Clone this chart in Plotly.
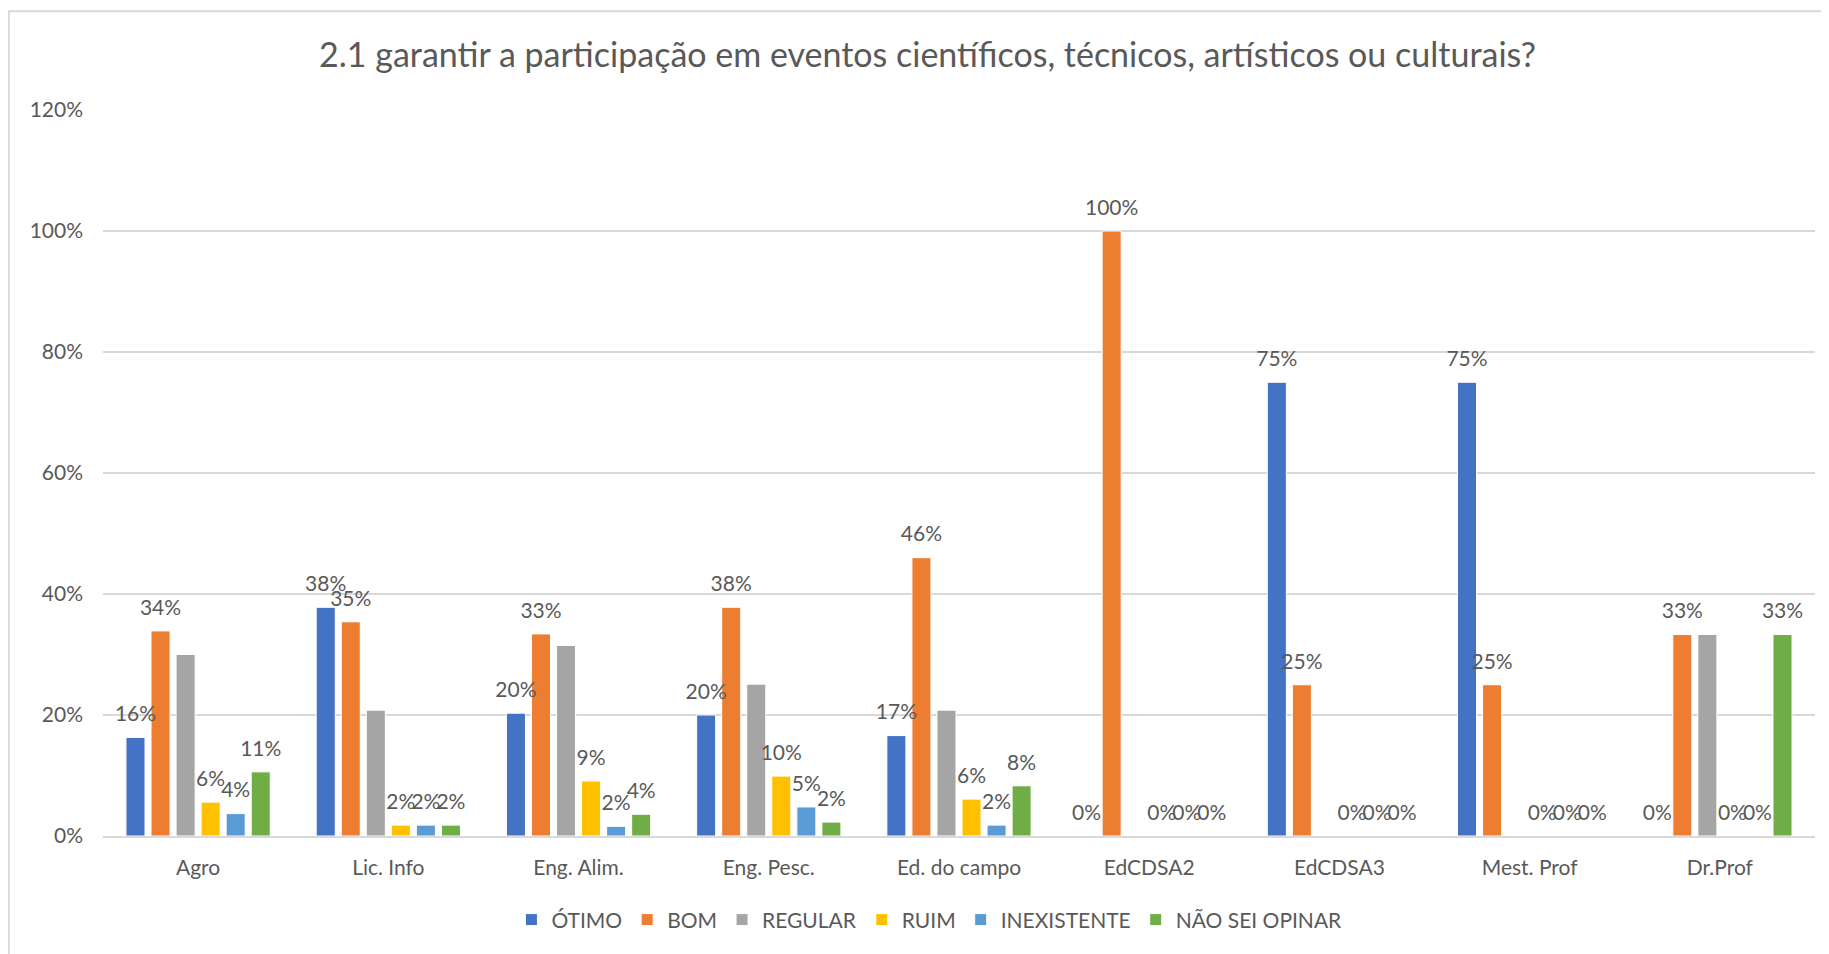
import plotly.graph_objects as go

# categorias (cursos)
cursos = ["Agro", "Lic. Info", "Eng. Alim.", "Eng. Pesc.", "Ed. do campo",
          "EdCDSA2", "EdCDSA3", "Mest. Prof", "Dr.Prof"]

# valores (fracao)
otimo = [0.163, 0.378, 0.203, 0.200, 0.166, 0.0, 0.75, 0.75, 0.0]
bom = [0.339, 0.354, 0.334, 0.378, 0.460, 1.0, 0.25, 0.25, 0.333]
regular = [0.300, 0.208, 0.315, 0.251, 0.208, 0.0, 0.0, 0.0, 0.333]
ruim = [0.056, 0.018, 0.091, 0.099, 0.061, 0.0, 0.0, 0.0, 0.0]
inexistente = [0.037, 0.018, 0.016, 0.048, 0.018, 0.0, 0.0, 0.0, 0.0]
nao_sei = [0.106, 0.018, 0.036, 0.023, 0.083, 0.0, 0.0, 0.0, 0.333]

series = [
    ("ÓTIMO", otimo, "#4472C4", True),
    ("BOM", bom, "#ED7D31", True),
    ("REGULAR", regular, "#A5A5A5", False),  # sem rotulos no original
    ("RUIM", ruim, "#FFC000", True),
    ("INEXISTENTE", inexistente, "#5B9BD5", True),
    ("NÃO SEI OPINAR", nao_sei, "#70AD47", True),
]

cinza = "#595959"
fonte = "Lato"
tam = 21

fig = go.Figure()

for nome, vals, cor, rotulo in series:
    fig.add_trace(go.Bar(
        x=cursos, y=vals, name=nome,
        marker=dict(color=cor, line=dict(color="white", width=1)),
        hoverinfo="skip",
    ))

# rotulos de dados como texto de scatter agrupado (para o espaco acima da barra)
for nome, vals, cor, rotulo in series:
    fig.add_trace(go.Scatter(
        x=cursos, y=vals, mode="markers+text",
        text=[f"{v:.0%}" if rotulo else "" for v in vals],
        textposition="top center",
        textfont=dict(size=tam, color=cinza, family=fonte),
        marker=dict(size=16, opacity=0),
        showlegend=False, hoverinfo="skip", cliponaxis=False,
    ))

# a pagina tem 8px de margem no body, por isso 1821x946
fig.update_layout(
    width=1821, height=946,
    barmode="group", bargap=0.21, bargroupgap=0.24,
    scattermode="group", scattergap=0.21,
    paper_bgcolor="white", plot_bgcolor="white",
    margin=dict(l=95, r=14, t=102, b=118, autoexpand=False),
    font=dict(family=fonte, color=cinza, size=tam),
    title=dict(
        text="2.1 garantir a participação em eventos científicos, técnicos, artísticos ou culturais?",
        x=0.505, xref="container", xanchor="center",
        y=0.950, yref="container", yanchor="middle",
        font=dict(size=34, color=cinza, family=fonte),
    ),
    legend=dict(
        orientation="h", x=0.506, xref="container", xanchor="center",
        y=0.036, yref="container", yanchor="middle",
        font=dict(size=tam, color=cinza, family=fonte),
        tracegroupgap=0,
    ),
    shapes=[dict(type="rect", xref="paper", yref="paper",
                 x0=-0.055, x1=1.2, y0=-0.3, y1=1.136,
                 line=dict(color="#D9D9D9", width=2), layer="below")],
)

fig.update_yaxes(
    range=[0, 1.2], dtick=0.2, tickformat=".0%",
    showgrid=True, gridcolor="#D9D9D9", gridwidth=1.5,
    zeroline=False, showline=False, ticks="",
    ticklabelstandoff=19, automargin=False,
    tickfont=dict(size=tam, color=cinza),
)
fig.update_xaxes(
    showline=True, linecolor="#D9D9D9", linewidth=1.5,
    ticks="", ticklabelstandoff=12, automargin=False,
    tickfont=dict(size=tam, color=cinza),
)

fig.write_html("out.html")
